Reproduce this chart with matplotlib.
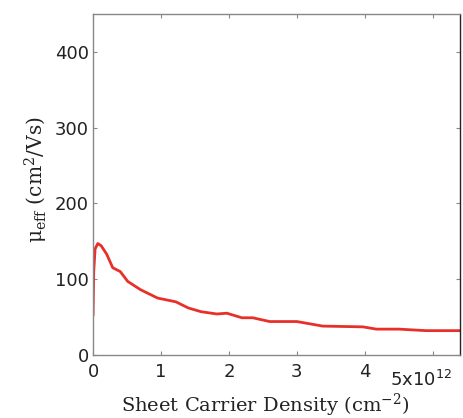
import matplotlib
matplotlib.use("Agg")
import matplotlib.pyplot as plt

# densidade (x10^12 cm^-2) e mobilidade efetiva (cm^2/Vs)
densidade = [0.0, 0.01, 0.03, 0.07, 0.12, 0.2, 0.29, 0.4, 0.51, 0.7, 0.95,
             1.22, 1.4, 1.59, 1.82, 1.97, 2.19, 2.35, 2.6, 3.0, 3.38, 3.97,
             4.17, 4.5, 4.9, 5.4]
mobilidade = [53, 110, 140, 147, 144, 133, 115, 110, 97, 86, 75,
              70, 62, 57, 54, 55, 49, 49, 44, 44, 38, 37,
              34, 34, 32, 32]

xticks = [0, 1, 2, 3, 4, 5]
xticklabels = ["0", "1", "2", "3", "4", ""]
yticks = [0, 100, 200, 300, 400]

fig = plt.figure(figsize=(4.63, 4.18), dpi=100)
ax = fig.add_axes([0.201, 0.151, 0.7925, 0.8155])

ax.plot(densidade, mobilidade, color="#e8302a", linewidth=2)

ax.set_xlim(0, 5.4)
ax.set_ylim(0, 450)
ax.set_xticks(xticks)
ax.set_xticklabels(xticklabels)
ax.set_yticks(yticks)
ax.tick_params(direction="in", length=3, top=True, right=True,
               labelsize=13, colors="#888888", labelcolor="#222222", pad=3)
ax.tick_params(axis="x", pad=6)
for s in ax.spines.values():
    s.set_color("#888888")
    s.set_linewidth(1)
ax.spines["right"].set_color("#222222")

ax.text(0.81, -0.075, r"5x10$^{12}$", transform=ax.transAxes,
        fontsize=13, color="#222222", ha="left", va="center")

ax.set_xlabel(r"Sheet Carrier Density (cm$^{-2}$)", family="DejaVu Serif",
              math_fontfamily="dejavuserif", fontsize=14, color="#222222")
ax.xaxis.set_label_coords(0.469, -0.108)
ax.set_ylabel(r"μ$_{\rm eff}$ (cm$^2$/Vs)", family="DejaVu Serif",
              math_fontfamily="dejavuserif", fontsize=14.5, color="#222222")
ax.yaxis.set_label_coords(-0.117, 0.513)

fig.savefig("out.png", dpi=100)
